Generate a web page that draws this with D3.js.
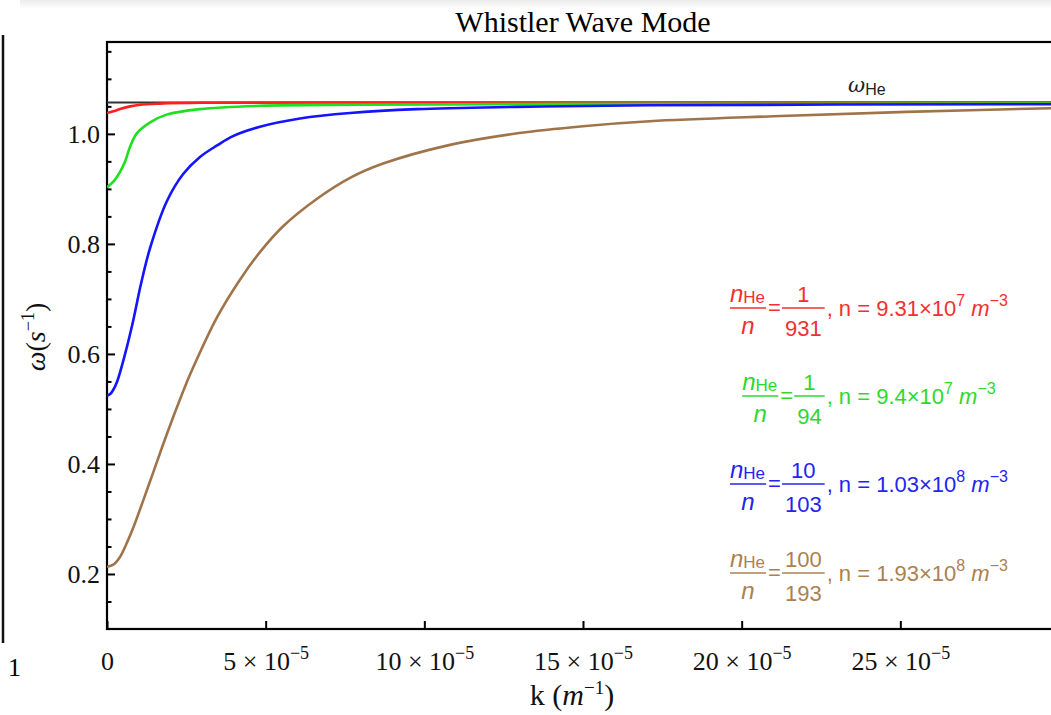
<!DOCTYPE html>
<html>
<head>
	<title>Whistler Wave Mode</title>
	<script src="https://d3js.org/d3.v7.min.js"></script>
	<style>
		body { margin: 0; background: #fff; }
		svg { display: block; }
	</style>
</head>
<body>
<script>
// k is given in units of 1e-5 m^-1
var redK   = [0, 0.2, 0.41, 0.73, 1.04, 1.67, 3, 6, 30];
var redW   = [1.038, 1.041, 1.045, 1.05, 1.053, 1.055, 1.0565, 1.057, 1.057];

var greenK = [0, 0.2, 0.41, 0.57, 0.73, 0.94, 1.36, 1.88, 2.93, 4.82, 8, 15, 30];
var greenW = [0.903, 0.913, 0.931, 0.95, 0.977, 1.001, 1.021, 1.035, 1.045, 1.051, 1.053, 1.0545, 1.055];

var blueK  = [0, 0.1, 0.19, 0.32, 0.57, 0.82, 1.07, 1.36, 1.89, 2.4, 2.93, 3.47, 3.97, 4.82, 6.08, 7.66, 9.77, 12.9, 17.1, 30];
var blueW  = [0.524, 0.527, 0.534, 0.55, 0.6, 0.659, 0.727, 0.793, 0.878, 0.927, 0.958, 0.979, 0.996, 1.013, 1.028, 1.038, 1.045, 1.049, 1.052, 1.054];

var brownK = [0, 0.2, 0.41, 0.6, 0.82, 1.36, 1.89, 2.4, 2.62, 3.47, 4.19, 4.82, 5.55, 6.62, 7.66, 8.7, 10.81, 12.93, 15, 17.1, 21, 25.2, 30];
var brownW = [0.213, 0.217, 0.231, 0.253, 0.283, 0.369, 0.455, 0.532, 0.563, 0.667, 0.735, 0.785, 0.832, 0.882, 0.92, 0.946, 0.98, 1.001, 1.014, 1.023, 1.032, 1.04, 1.047];

var omegaHe = 1.057;

var xTicks = [0, 5, 10, 15, 20, 25];
var yMajor = [0.2, 0.4, 0.6, 0.8, 1.0];

var legendNum  = ["1", "1", "10", "100"];
var legendDen  = ["931", "94", "103", "193"];
var legendMant = ["9.31", "9.4", "1.03", "1.93"];
var legendExp  = ["7", "7", "8", "8"];

var colors = ["#ff1f1f", "#1fe01f", "#1414ff", "#a0744a"];
var textColors = ["#f23030", "#2ed82e", "#2424f0", "#ad8050"];

var series = [
	{k: redK, w: redW},
	{k: greenK, w: greenW},
	{k: blueK, w: blueW},
	{k: brownK, w: brownW}
];

var svg = d3.select("body").append("svg")
	.attr("width", 1051)
	.attr("height", 715);

// faint band at the very top of the page
var grad = svg.append("defs").append("linearGradient")
	.attr("id", "band").attr("x1", 0).attr("y1", 0).attr("x2", 0).attr("y2", 1);
grad.append("stop").attr("offset", "0%").attr("stop-color", "#ececec");
grad.append("stop").attr("offset", "100%").attr("stop-color", "#ffffff");
svg.append("rect").attr("x", 20).attr("y", 0).attr("width", 1031).attr("height", 9)
	.attr("fill", "url(#band)");

// edge of neighbouring panel
svg.append("line").attr("x1", 3).attr("x2", 3).attr("y1", 35).attr("y2", 643)
	.attr("stroke", "#111").attr("stroke-width", 2.5);
svg.append("text").attr("x", 8).attr("y", 676)
	.style("font-family", "Liberation Serif").style("font-size", "26px").text("1");

var x = d3.scaleLinear().domain([0, 30]).range([107, 1059]);
var y = d3.scaleLinear().domain([0.1, 1.167]).range([629, 42]);

svg.append("defs").append("clipPath").attr("id", "clip")
	.append("rect").attr("x", 107).attr("y", 42).attr("width", 952).attr("height", 587);

// title
svg.append("text")
	.attr("x", 583).attr("y", 32)
	.attr("text-anchor", "middle")
	.style("font-family", "Liberation Serif").style("font-size", "30px")
	.text("Whistler Wave Mode");

// y axis, major and minor ticks pointing inward
var yAxis = svg.append("g").attr("transform", "translate(107,0)")
	.call(d3.axisLeft(y).tickValues(yMajor).tickSize(-8).tickPadding(7)
		.tickFormat(d3.format(".1f")));
var yMinor = d3.range(0.15, 1.16, 0.05).filter(function(v) {
	return Math.abs(Math.round(v * 5) - v * 5) > 0.01;
});
var yAxis2 = svg.append("g").attr("transform", "translate(107,0)")
	.call(d3.axisLeft(y).tickValues(yMinor).tickSize(-4.5).tickFormat(""));

// x axis
var xAxis = svg.append("g").attr("transform", "translate(0,629)")
	.call(d3.axisBottom(x).tickValues(xTicks).tickSize(-8));

[yAxis, yAxis2, xAxis].forEach(function(g) {
	g.select(".domain").remove();
	g.selectAll(".tick line").attr("stroke", "#000").attr("stroke-width", 2);
	g.selectAll("text").attr("fill", "#111")
		.style("font-family", "Liberation Serif").style("font-size", "26px");
});

xAxis.selectAll(".tick text").each(function(d) {
	var t = d3.select(this).attr("y", 41).attr("dy", null).text(null);
	if (d === 0) { t.text("0"); return; }
	t.append("tspan").text(d + " \u00d7 10");
	t.append("tspan").attr("dy", -11).style("font-size", "18px").text("\u22125");
});

// frame
svg.append("rect").attr("x", 107).attr("y", 42).attr("width", 952).attr("height", 587)
	.attr("fill", "none").attr("stroke", "#000").attr("stroke-width", 2.2);

// axis labels
var yl = svg.append("text")
	.attr("transform", "translate(45,337) rotate(-90)")
	.attr("text-anchor", "middle")
	.style("font-family", "Liberation Serif").style("font-size", "28px").attr("fill", "#111");
yl.append("tspan").style("font-style", "italic").text("\u03c9");
yl.append("tspan").text("(");
yl.append("tspan").style("font-style", "italic").text("s");
yl.append("tspan").attr("dy", -11).style("font-size", "18px").text("\u22121");
yl.append("tspan").attr("dy", 11).text(")");

var xl = svg.append("text")
	.attr("x", 572).attr("y", 705)
	.attr("text-anchor", "middle")
	.style("font-family", "Liberation Serif").style("font-size", "30px").attr("fill", "#111");
xl.append("tspan").text("k (");
xl.append("tspan").style("font-style", "italic").text("m");
xl.append("tspan").attr("dy", -11).style("font-size", "19px").text("\u22121");
xl.append("tspan").attr("dy", 11).text(")");

// omega_He line and label
svg.append("line")
	.attr("x1", x(0)).attr("x2", x(30))
	.attr("y1", y(omegaHe)).attr("y2", y(omegaHe))
	.attr("stroke", "#333").attr("stroke-width", 2);
var wl = svg.append("text").attr("x", 848).attr("y", 92).attr("fill", "#222");
wl.append("tspan").style("font-family", "DejaVu Serif").style("font-style", "italic")
	.style("font-size", "21px").text("\u03c9");
wl.append("tspan").attr("dy", 3).style("font-family", "Liberation Sans")
	.style("font-size", "16px").text("He");

// curves
var line = d3.line()
	.x(function(d) { return x(d[0]); })
	.y(function(d) { return y(d[1]); })
	.curve(d3.curveCatmullRom.alpha(0.5));

var plot = svg.append("g").attr("clip-path", "url(#clip)");
series.forEach(function(s, i) {
	plot.append("path")
		.datum(d3.zip(s.k, s.w))
		.attr("d", line)
		.attr("fill", "none")
		.attr("stroke", colors[i])
		.attr("stroke-width", 2.6);
});

// legend
var legendY = [308, 396, 484, 573];
var legendCx = 869;
legendNum.forEach(function(num, i) {
	var by = legendY[i];
	var g = svg.append("g")
		.style("font-family", "Liberation Sans")
		.attr("fill", textColors[i]);
	var c = textColors[i];

	// n_He / n
	var nh = g.append("text").attr("x", 0).attr("y", by - 6);
	nh.append("tspan").style("font-style", "italic").style("font-size", "24px").text("n");
	nh.append("tspan").attr("dy", 1).style("font-size", "17px").text("He");
	var w1 = nh.node().getComputedTextLength();
	g.append("line").attr("x1", 0).attr("x2", w1 + 1).attr("y1", by).attr("y2", by)
		.attr("stroke", c).attr("stroke-width", 1.5);
	g.append("text").attr("x", (w1 + 1) / 2).attr("y", by + 26).attr("text-anchor", "middle")
		.style("font-style", "italic").style("font-size", "24px").text("n");

	// =
	var eqX = w1 + 3;
	var eq = g.append("text").attr("x", eqX).attr("y", by + 7).style("font-size", "22px").text("=");
	var x2 = eqX + eq.node().getComputedTextLength() + 1;

	// number fraction
	var nt = g.append("text").attr("y", by - 6).attr("text-anchor", "middle")
		.style("font-size", "22px").text(num);
	var dt = g.append("text").attr("y", by + 28).attr("text-anchor", "middle")
		.style("font-size", "22px").text(legendDen[i]);
	var fw = Math.max(nt.node().getComputedTextLength(), dt.node().getComputedTextLength()) + 6;
	nt.attr("x", x2 + fw / 2);
	dt.attr("x", x2 + fw / 2);
	g.append("line").attr("x1", x2).attr("x2", x2 + fw).attr("y1", by).attr("y2", by)
		.attr("stroke", c).attr("stroke-width", 1.5);

	// , n = ... m^-3
	var rt = g.append("text").attr("x", x2 + fw + 2).attr("y", by + 8).style("font-size", "22px");
	rt.append("tspan").text(", n = " + legendMant[i] + "\u00d710");
	rt.append("tspan").attr("dy", -10).style("font-size", "16px").text(legendExp[i]);
	rt.append("tspan").attr("dy", 10).text(" ");
	rt.append("tspan").style("font-style", "italic").text("m");
	rt.append("tspan").attr("dy", -10).style("font-size", "16px").text("\u22123");

	var bb = g.node().getBBox();
	g.attr("transform", "translate(" + (legendCx - bb.x - bb.width / 2) + ",0)");
});
</script>
</body>
</html>
